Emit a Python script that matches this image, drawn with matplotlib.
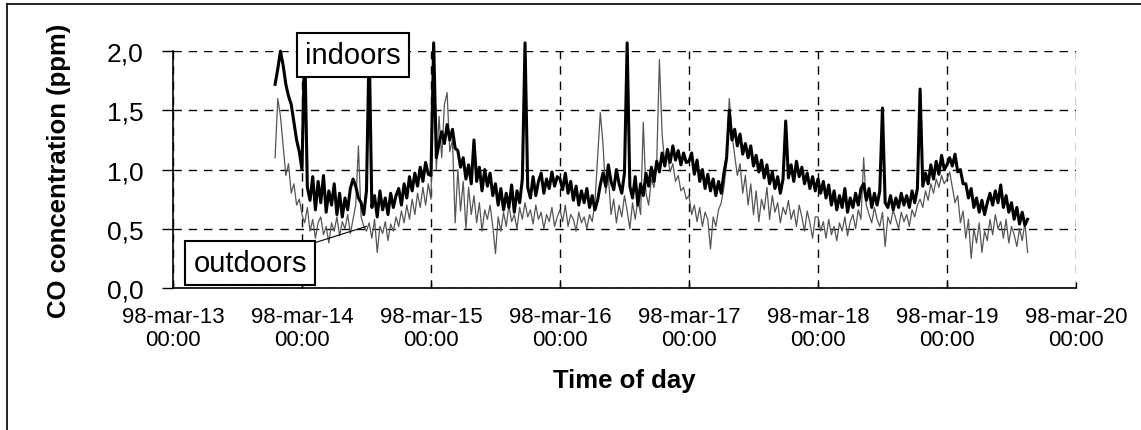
import numpy as np
import pandas as pd
import matplotlib
matplotlib.use("Agg")
import matplotlib.pyplot as plt
import matplotlib.dates as mdates
from matplotlib.lines import Line2D

plt.rcParams['font.family'] = ['Liberation Sans', 'DejaVu Sans']

# CO readings every 30 min, starting 98-mar-13 19:00
indoor_13 = [1.72, 1.85, 2.00, 1.88, 1.72, 1.62, 1.55, 1.40, 1.25, 1.15]
indoor_14 = [1.00, 2.07, 0.85, 0.74, 0.94, 0.66, 0.90, 0.72, 0.95, 0.64, 0.82, 0.70,
             0.88, 0.62, 0.80, 0.60, 0.76, 0.66, 0.84, 0.92, 0.86, 0.76, 0.72, 0.62,
             0.82, 2.07, 0.68, 0.78, 0.60, 0.82, 0.66, 0.76, 0.62, 0.80, 0.68, 0.78,
             0.84, 0.70, 0.88, 0.76, 0.94, 0.82, 0.97, 0.86, 1.02, 0.90, 1.06, 0.96]
indoor_15 = [0.95, 2.07, 1.10, 1.22, 1.32, 1.22, 1.38, 1.25, 1.34, 1.18, 1.16, 1.02,
             1.10, 0.92, 1.04, 0.88, 1.25, 0.90, 1.02, 0.82, 1.00, 0.86, 0.97, 0.78,
             0.88, 0.70, 0.84, 0.66, 0.80, 0.68, 0.87, 0.64, 0.82, 0.72, 0.92, 2.07,
             0.85, 0.76, 0.94, 0.78, 0.90, 0.97, 0.80, 0.92, 0.84, 0.98, 0.86, 0.94]
indoor_16 = [0.92, 0.83, 0.97, 0.80, 0.90, 0.74, 0.86, 0.70, 0.82, 0.72, 0.84, 0.68,
             0.78, 0.66, 0.74, 0.87, 0.97, 0.86, 1.04, 0.90, 0.83, 1.00, 0.88, 0.80,
             0.97, 2.07, 0.86, 0.76, 0.94, 0.70, 0.88, 0.78, 0.97, 0.86, 1.02, 0.90,
             1.07, 0.98, 1.14, 1.03, 1.17, 1.06, 1.20, 1.08, 1.16, 1.04, 1.14, 1.06]
indoor_17 = [1.07, 1.14, 0.96, 1.08, 0.90, 1.00, 0.84, 0.96, 0.82, 0.92, 0.78, 0.90,
             0.80, 0.97, 1.10, 1.50, 1.25, 1.34, 1.20, 1.30, 1.13, 1.22, 1.10, 1.20,
             1.03, 1.12, 0.98, 1.08, 0.93, 1.04, 0.88, 0.98, 0.84, 0.94, 0.80, 0.92,
             1.41, 0.93, 1.04, 0.90, 1.07, 0.94, 1.02, 0.88, 0.97, 0.84, 0.94, 0.82]
indoor_18 = [0.92, 0.80, 0.90, 0.76, 0.87, 0.70, 0.82, 0.66, 0.78, 0.68, 0.84, 0.64,
             0.76, 0.68, 0.80, 0.70, 0.84, 0.88, 0.74, 0.84, 0.68, 0.80, 0.70, 0.82,
             1.52, 0.72, 0.68, 0.78, 0.66, 0.76, 0.68, 0.80, 0.70, 0.78, 0.68, 0.82,
             0.72, 0.84, 1.68, 0.86, 0.97, 0.88, 1.04, 0.92, 1.07, 0.96, 1.12, 1.00]
indoor_19 = [1.04, 1.10, 1.03, 1.13, 0.98, 1.00, 0.88, 0.88, 0.76, 0.84, 0.68, 0.76,
             0.64, 0.74, 0.62, 0.72, 0.80, 0.70, 0.82, 0.72, 0.87, 0.68, 0.78, 0.64,
             0.72, 0.58, 0.68, 0.54, 0.64, 0.53, 0.58]

outdoor_13 = [1.10, 1.60, 1.45, 1.20, 0.95, 1.05, 0.80, 0.88, 0.70, 0.75]
outdoor_14 = [0.62, 0.55, 0.68, 0.48, 0.58, 0.42, 0.55, 0.60, 0.45, 0.52, 0.38, 0.55,
              0.48, 0.60, 0.44, 0.56, 0.50, 0.62, 0.46, 0.58, 0.70, 1.20, 0.60, 0.52,
              0.48, 0.55, 0.42, 0.58, 0.30, 0.52, 0.46, 0.56, 0.40, 0.54, 0.48, 0.60,
              0.52, 0.65, 0.55, 0.70, 0.58, 0.75, 0.62, 0.80, 0.68, 0.85, 0.70, 0.88]
outdoor_15 = [0.75, 1.80, 1.00, 1.45, 1.10, 1.55, 1.65, 1.15, 1.25, 0.55, 1.00, 0.65,
              0.90, 0.50, 0.85, 0.62, 0.78, 0.55, 0.72, 0.48, 0.66, 0.58, 0.70, 0.52,
              0.29, 0.60, 0.48, 0.64, 0.52, 0.70, 0.56, 0.62, 0.50, 0.68, 0.58, 0.72,
              0.60, 0.66, 0.54, 0.70, 0.58, 0.64, 0.50, 0.62, 0.56, 0.68, 0.52, 0.60]
outdoor_16 = [0.66, 0.56, 0.70, 0.52, 0.62, 0.58, 0.48, 0.64, 0.55, 0.60, 0.50, 0.62,
              0.56, 0.72, 1.10, 1.48, 1.22, 0.80, 0.95, 0.62, 0.75, 0.55, 0.70, 0.60,
              0.78, 0.65, 0.50, 0.72, 0.58, 0.75, 0.62, 1.40, 0.80, 0.70, 0.92, 0.85,
              1.05, 1.93, 1.30, 1.05, 1.12, 0.98, 1.05, 0.90, 0.95, 0.82, 0.85, 0.75]
outdoor_17 = [0.78, 0.62, 0.70, 0.56, 0.68, 0.52, 0.64, 0.58, 0.33, 0.60, 0.52, 0.66,
              0.72, 0.85, 1.05, 1.60, 1.30, 1.12, 0.95, 1.05, 0.80, 0.95, 0.70, 0.88,
              0.62, 0.82, 0.56, 0.75, 0.66, 0.85, 0.58, 0.78, 0.64, 0.72, 0.55, 0.68,
              0.62, 0.74, 0.58, 0.66, 0.52, 0.70, 0.60, 0.48, 0.65, 0.55, 0.42, 0.60]
outdoor_18 = [0.60, 0.48, 0.56, 0.42, 0.58, 0.45, 0.52, 0.40, 0.55, 0.48, 0.60, 0.44,
              0.56, 0.62, 0.50, 0.66, 0.58, 1.10, 0.70, 0.62, 0.55, 0.68, 0.58, 0.52,
              0.64, 0.35, 0.60, 0.54, 0.66, 0.58, 0.50, 0.64, 0.56, 0.62, 0.52, 0.66,
              0.60, 0.70, 0.75, 0.68, 0.82, 0.74, 0.88, 0.80, 0.92, 0.85, 0.95, 0.88]
outdoor_19 = [0.92, 0.98, 0.85, 0.72, 0.78, 0.55, 0.65, 0.42, 0.58, 0.25, 0.50, 0.38,
              0.55, 0.30, 0.48, 0.40, 0.58, 0.45, 0.62, 0.50, 0.56, 0.42, 0.58, 0.38,
              0.52, 0.45, 0.35, 0.50, 0.40, 0.55, 0.30]

indoors = indoor_13 + indoor_14 + indoor_15 + indoor_16 + indoor_17 + indoor_18 + indoor_19
outdoors = outdoor_13 + outdoor_14 + outdoor_15 + outdoor_16 + outdoor_17 + outdoor_18 + outdoor_19
times = pd.date_range("1998-03-13 19:00", periods=len(indoors), freq="30min")

y_ticks = [0.0, 0.5, 1.0, 1.5, 2.0]
y_labels = ["0,0", "0,5", "1,0", "1,5", "2,0"]
x_ticks = pd.date_range("1998-03-13", "1998-03-20", freq="D")
x_labels = [f"98-mar-{d.day}\n00:00" for d in x_ticks]

fig = plt.figure(figsize=(11.41, 4.31), dpi=100)
ax = fig.add_axes([0.1516, 0.3295, 0.7914, 0.5495])

ax.plot(times, outdoors, color="#555555", lw=0.9, zorder=3, clip_on=False)
ax.plot(times, indoors, color="black", lw=2.2, zorder=4, clip_on=False)

ax.set_xlim(x_ticks[0], x_ticks[-1])
ax.set_ylim(0, 2.0)
ax.set_yticks(y_ticks)
ax.set_yticklabels(y_labels, fontsize=19)
ax.set_xticks(x_ticks)
ax.set_xticklabels(x_labels, fontsize=16, linespacing=1.15)
ax.tick_params(axis="y", direction="out", length=8, width=1, pad=13)
ax.tick_params(axis="x", direction="in", length=4, width=1, pad=13)

ax.grid(True, color="black", linestyle=(0, (6, 5)), lw=1.0)
ax.set_axisbelow(True)
for s in ["top", "right"]:
    ax.spines[s].set_visible(False)
ax.spines["left"].set_linewidth(1.2)
ax.spines["bottom"].set_linewidth(1.2)

ax.set_ylabel("CO concentration (ppm)", fontsize=18.5, fontweight="bold", labelpad=26)
ax.set_xlabel("Time of day", fontsize=18.5, fontweight="bold", labelpad=13)

box = dict(boxstyle="square,pad=0.28", fc="white", ec="black", lw=1.5)
ax.text(pd.Timestamp("1998-03-14 09:30"), 1.97, "indoors", fontsize=21,
        ha="center", va="center", bbox=box, zorder=6)
ax.annotate("outdoors", xy=(pd.Timestamp("1998-03-14 12:00"), 0.52),
            xytext=(pd.Timestamp("1998-03-13 14:20"), 0.21), fontsize=21,
            ha="center", va="center", bbox=box, zorder=6,
            arrowprops=dict(arrowstyle="-", color="black", lw=0.8,
                            shrinkA=0, shrinkB=0))

fig.add_artist(Line2D([0.006, 1.0], [0.988, 0.988], color="black", lw=1.2))
fig.add_artist(Line2D([0.006, 0.006], [0.0, 0.988], color="black", lw=1.2))

fig.savefig("out.png", dpi=100)
